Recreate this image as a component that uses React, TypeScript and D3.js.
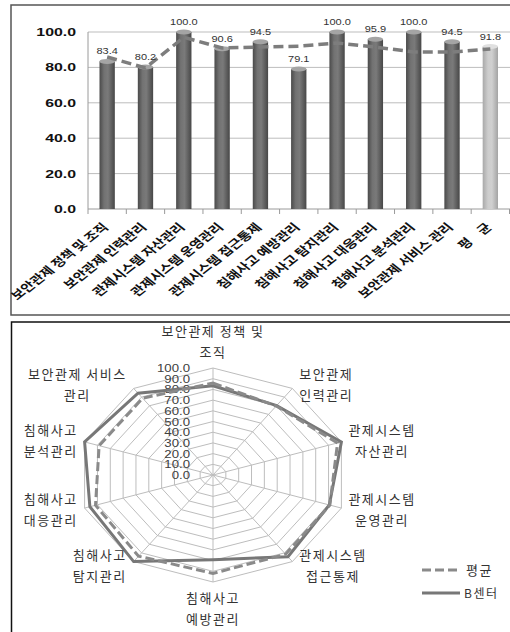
import React from 'react';
import * as d3 from 'd3';

// Evaluation areas (bar chart adds the overall average as the last bar)
const categories = [
  '보안관제 정책 및 조직',
  '보안관제 인력관리',
  '관제시스템 자산관리',
  '관제시스템 운영관리',
  '관제시스템 접근통제',
  '침해사고 예방관리',
  '침해사고 탐지관리',
  '침해사고 대응관리',
  '침해사고 분석관리',
  '보안관제 서비스 관리',
  '평    균',
];
const bCenter = [83.4, 80.2, 100.0, 90.6, 94.5, 79.1, 100.0, 95.9, 100.0, 94.5, 91.8];
const average = [85.9, 79.7, 97.0, 91.0, 91.5, 92.0, 93.8, 91.5, 88.7, 88.7, 90.4];
const yTicks = [0, 20, 40, 60, 80, 100];

const radarLabels = [
  ['보안관제 정책 및', '조직'],
  ['보안관제', '인력관리'],
  ['관제시스템', '자산관리'],
  ['관제시스템', '운영관리'],
  ['관제시스템', '접근통제'],
  ['침해사고', '예방관리'],
  ['침해사고', '탐지관리'],
  ['침해사고', '대응관리'],
  ['침해사고', '분석관리'],
  ['보안관제 서비스', '관리'],
];
const radarTicks = d3.range(0, 101, 10);
const legendLabels = ['평균', 'B센터'];

const KR = '"Noto Sans CJK KR", "Noto Sans", sans-serif';
const SX = 1.26; // horizontal text stretch

let measureCtx: CanvasRenderingContext2D | null = null;
function textWidth(s: string, font: string, spacing: number) {
  if (!measureCtx) measureCtx = document.createElement('canvas').getContext('2d');
  if (!measureCtx) return s.length * 13;
  measureCtx.font = font;
  return measureCtx.measureText(s).width + spacing * s.length;
}

function SText({ x, y, sx = SX, rot = 0, children, ...rest }: any) {
  return (
    <text transform={`translate(${x},${y}) scale(${sx},1) rotate(${rot})`} {...rest}>
      {children}
    </text>
  );
}

function BarChart() {
  const idx = categories.map((_, i) => i);
  const x = d3.scaleBand<number>().domain(idx).range([88, 509.5]).padding(0);
  const y = d3.scaleLinear().domain([0, 100]).range([209, 32]);
  const bw = x.bandwidth() * 0.4;
  const cxOf = (i: number) => (x(i) as number) + x.bandwidth() / 2;
  const avgLine = d3
    .line<number>()
    .x((_, i) => cxOf(i))
    .y((d) => y(d));

  return (
    <g>
      <defs>
        <linearGradient id="barDark" x1="0" x2="1" y1="0" y2="0">
          <stop offset="0" stopColor="#4a4a4a" />
          <stop offset="0.3" stopColor="#727272" />
          <stop offset="0.55" stopColor="#7a7a7a" />
          <stop offset="1" stopColor="#474747" />
        </linearGradient>
        <linearGradient id="barLight" x1="0" x2="1" y1="0" y2="0">
          <stop offset="0" stopColor="#a9a9a9" />
          <stop offset="0.35" stopColor="#cdcdcd" />
          <stop offset="0.6" stopColor="#d0d0d0" />
          <stop offset="1" stopColor="#a4a4a4" />
        </linearGradient>
      </defs>
      {yTicks.map((t) => (
        <line key={t} x1={88} x2={510} y1={y(t)} y2={y(t)} stroke={t === 0 ? '#9a9a9a' : '#bdbdbd'} strokeWidth={1} />
      ))}
      <line x1={88} x2={88} y1={y(100)} y2={y(0)} stroke="#9a9a9a" />
      {d3.range(categories.length + 1).map((i) => {
        const xx = i < categories.length ? (x(i) as number) : 509.5;
        return <line key={i} x1={xx} x2={xx} y1={y(0)} y2={y(0) + 5} stroke="#9a9a9a" />;
      })}
      {yTicks.map((t) => (
        <SText key={t} x={76} y={y(t) + 4} sx={1.38} textAnchor="end" fontFamily="Arial, Liberation Sans" fontWeight="bold" fontSize={11.5} fill="#111">
          {t.toFixed(1)}
        </SText>
      ))}
      {bCenter.map((v, i) => {
        const last = i === bCenter.length - 1;
        const bx = cxOf(i) - bw / 2;
        return (
          <g key={i}>
            <rect x={bx} y={y(v)} width={bw} height={y(0) - y(v)} fill={last ? 'url(#barLight)' : 'url(#barDark)'} />
            <ellipse cx={cxOf(i)} cy={y(v)} rx={bw / 2} ry={2.5} fill={last ? '#e0e0e0' : '#a4a4a4'} />
          </g>
        );
      })}
      <path d={avgLine(average) || ''} fill="none" stroke="#7d7d7d" strokeWidth={3.5} strokeDasharray="10,5" />
      {bCenter.map((v, i) => (
        <SText key={i} x={cxOf(i)} y={y(v) - 7} sx={1.16} textAnchor="middle" fontFamily="Arial, Liberation Sans" fontSize={9.5} fill="#333">
          {v.toFixed(1)}
        </SText>
      ))}
      {categories.map((c, i) => (
        <SText key={i} x={cxOf(i) + 2} y={228} rot={-45} textAnchor="end" fontFamily={KR} fontWeight="bold" fontSize={11.5} fill="#111" style={{ whiteSpace: 'pre' }}>
          {c}
        </SText>
      ))}
    </g>
  );
}

function Radar() {
  const cx = 213;
  const cy = 475;
  const rx = 135;
  const ry = 107;
  const n = radarLabels.length;
  const r = d3.scaleLinear().domain([0, 100]).range([0, 1]);
  const ang = (i: number) => (i * 2 * Math.PI) / n;
  const pt = (i: number, v: number): [number, number] => [
    cx + rx * r(v) * Math.sin(ang(i)),
    cy - ry * r(v) * Math.cos(ang(i)),
  ];
  const closed = d3.line().curve(d3.curveLinearClosed);
  const ring = (v: number) => closed(d3.range(n).map((i) => pt(i, v))) || '';
  const series = (vals: number[]) => closed(vals.slice(0, n).map((v, i) => pt(i, v))) || '';

  const labelFont = `13px ${KR}`;
  const ls = 1.5;

  return (
    <g>
      {radarTicks.slice(1).map((t) => (
        <path key={t} d={ring(t)} fill="none" stroke="#bdbdbd" strokeWidth={1} />
      ))}
      {d3.range(n).map((i) => {
        const [x2, y2] = pt(i, 100);
        return <line key={i} x1={cx} y1={cy} x2={x2} y2={y2} stroke="#bdbdbd" strokeWidth={1} />;
      })}
      {radarTicks.map((t) => (
        <SText key={t} x={cx - 23} y={cy - ry * r(t) + 4} sx={1.2} textAnchor="end" fontFamily="Arial, Liberation Sans" fontSize={11} fill="#404040">
          {t.toFixed(1)}
        </SText>
      ))}
      <path d={series(bCenter)} fill="none" stroke="#777" strokeWidth={3} strokeLinejoin="miter" />
      <path d={series(average)} fill="none" stroke="#8a8a8a" strokeWidth={3} strokeDasharray="9,4" />
      {radarLabels.map((lines, i) => {
        const a = ang(i);
        const s = Math.sin(a);
        const c = Math.cos(a);
        const [vx, vy] = pt(i, 100);
        const w = Math.max(...lines.map((l) => textWidth(l, labelFont, ls)));
        let bx = vx;
        if (s > 0.1) bx = vx + 7 + w / 2;
        else if (s < -0.1) bx = vx - 7 - w / 2;
        const lh = 21;
        let y0: number;
        if (Math.abs(s) <= 0.1) {
          y0 = c > 0 ? vy - 16 - lh : vy + 16;
        } else {
          y0 = vy - 5 * c - lh / 2;
        }
        return (
          <g key={i}>
            {lines.map((l, k) => (
              <text key={k} x={bx} y={y0 + k * lh + 5} textAnchor="middle" fontFamily={KR} fontSize={13} letterSpacing={ls} fill="#333">
                {l}
              </text>
            ))}
          </g>
        );
      })}
      {legendLabels.map((l, k) => {
        const ly = 570 + k * 23;
        return (
          <g key={l}>
            <line x1={422} x2={k === 0 ? 457 : 460} y1={ly} y2={ly} stroke={k === 0 ? '#8a8a8a' : '#777'} strokeWidth={3} strokeDasharray={k === 0 ? '9,4' : undefined} />
            <text x={k === 0 ? 466 : 464} y={ly + 5} fontFamily={KR} fontSize={k === 0 ? 13 : 12} letterSpacing={ls} fill="#333">
              {l}
            </text>
          </g>
        );
      })}
    </g>
  );
}

export default function App() {
  return (
    <svg width={510} height={632} style={{ position: 'absolute', left: 0, top: 0, background: '#fff' }}>
      <rect x={0} y={0} width={510} height={632} fill="#fff" />
      <rect x={11} y={5} width={520} height={310} fill="none" stroke="#555" strokeWidth={1.5} />
      <rect x={11.5} y={322} width={520} height={340} fill="none" stroke="#111" strokeWidth={1.5} />
      <BarChart />
      <Radar />
    </svg>
  );
}
